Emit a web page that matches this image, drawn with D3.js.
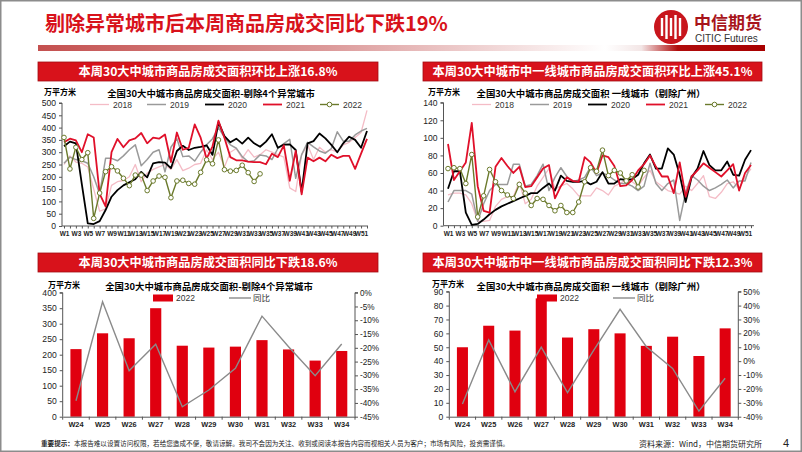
<!DOCTYPE html>
<html><head><meta charset="utf-8">
<script src="https://cdn.jsdelivr.net/npm/d3@7"></script>
<style>
body{margin:0;background:#fff;}
svg{display:block;}
text{font-family:"Liberation Sans","Noto Sans CJK SC",sans-serif;}
.cjk{font-family:"Noto Sans CJK SC",sans-serif;}
</style>
</head><body>
<svg id="c" width="802" height="452"></svg>
<script>
// ---------------- DATA ----------------
const weeks = d3.range(1, 53).map(i => "W" + i);
const yearNames = ["2018", "2019", "2020", "2021", "2022"];

// 全国30大中城市 (剔除4个异常城市), 万平方米
const all2018 = [250,285,260,255,240,150,60,70,165,180,185,200,250,180,215,230,240,250,230,270,225,235,250,255,310,270,300,240,300,315,275,310,280,290,310,300,290,280,155,140,290,330,270,320,300,310,300,330,340,360,380,470];
const all2019 = [255,280,270,265,255,200,130,275,275,265,285,310,330,245,270,300,310,220,320,355,282,285,264,300,330,355,400,360,330,316,282,261,265,289,285,270,315,335,352,194,290,340,322,305,296,315,383,345,345,370,386,397];
const all2020 = [324,343,336,170,11,8,20,65,119,146,165,178,190,220,198,255,260,258,235,305,326,309,318,322,328,289,422,365,340,355,335,359,336,322,343,373,318,331,332,309,139,336,345,376,356,330,300,336,363,350,318,386];
const all2021 = [340,355,348,300,373,360,131,80,300,354,320,348,356,378,336,359,355,372,260,380,310,318,413,359,274,324,428,359,280,267,267,262,260,260,251,294,280,328,184,305,129,278,263,278,263,290,276,285,285,232,294,354];
const all2022 = [360,232,320,270,298,31,134,221,241,224,194,164,207,207,144,183,203,198,115,183,186,173,170,218,269,253,350,229,223,226,247,217,181,212];

// 一线城市 (剔除广州), 万平方米
const t1_2018 = [35,37,37,35,25,5,5,6,22,30,33,33,50,25,30,45,55,65,42,45,48,42,34,34,34,43,40,35,45,48,53,50,45,55,63,50,45,40,38,36,45,40,48,57,33,31,38,48,50,42,55,65];
const t1_2019 = [27,40,40,40,36,5,25,40,47,47,47,70,70,45,47,57,70,40,55,66,56,50,52,55,67,57,60,57,52,48,48,45,40,45,71,48,40,48,52,6,38,57,52,45,40,43,47,52,43,51,51,72];
const t1_2020 = [42,62,62,15,1,2,7,13,18,22,25,28,31,34,37,37,43,48,40,57,51,50,50,51,47,50,61,48,48,53,52,53,58,71,81,65,65,88,81,58,27,55,65,85,69,63,63,73,58,57,75,86];
const t1_2021 = [93,52,62,72,117,45,17,15,67,77,68,60,67,44,45,55,65,69,31,45,55,51,50,78,72,60,80,78,68,45,46,52,63,70,80,67,56,56,37,72,33,56,63,71,66,61,56,63,70,40,60,69];
const t1_2022 = [65,66,65,48,81,10,34,64,50,40,35,31,47,37,23,31,30,23,17,23,15,15,27,50,66,62,86,57,63,60,51,58,44,63];

// 同比 bar charts (W24-W34)
const barWeeks = ["W24","W25","W26","W27","W28","W29","W30","W31","W32","W33","W34"];
const allBars = [218,269,253,350,229,223,226,247,217,181,212];
const allYoY = [-39.2,-3.3,-28.3,-18.7,-41.4,-35.3,-27.4,-8.5,-19.6,-30.1,-18.6];
const t1Bars = [50,65.5,62,85.2,57,63,60,51,57.6,43.7,63.6];
const t1YoY = [-30.8,15.2,-22,10,-22.7,8,37.3,10.4,-5.2,-36,-12.3];

const leftTicks = d3.range(0, 501, 50);
const t1Ticks = d3.range(0, 141, 20);
const allBarTicks = d3.range(0, 401, 50);
const allYoYTicks = d3.range(-45, 1, 5);
const t1BarTicks = d3.range(0, 91, 10);
const t1YoYTicks = d3.range(-40, 51, 10);

// --------------- STYLE ---------------
const RED = "#d8121b";
const seriesStyle = {
  "2018": {color: "#f4bcc6", w: 1.3},
  "2019": {color: "#9a9a9a", w: 1.5},
  "2020": {color: "#000000", w: 1.8},
  "2021": {color: "#e0102a", w: 1.8},
  "2022": {color: "#6b7a2c", w: 1.4, marker: true}
};

const svg = d3.select("#c");
const defs = svg.append("defs");
const grad = defs.append("linearGradient").attr("id", "hg").attr("x1", "0").attr("x2", "1");
[[0, "#c4504f"], [0.4, "#dc9a9a"], [0.78, "#ffffff"], [0.83, "#f3e6e6"], [0.88, "#b00c0c"], [1, "#a80000"]]
  .forEach(([o, c]) => grad.append("stop").attr("offset", o).attr("stop-color", c));

svg.append("rect").attr("x", 0).attr("y", 0).attr("width", 802).attr("height", 452).attr("fill", "#fff");

// Title
svg.append("text").attr("class", "cjk").attr("x", 45).attr("y", 31)
  .attr("font-size", 20).attr("font-weight", "bold").attr("fill", RED)
  .text("剔除异常城市后本周商品房成交同比下跌19%");
svg.append("rect").attr("x", 38).attr("y", 45).attr("width", 727).attr("height", 6).attr("fill", "url(#hg)");

// Logo
const logo = svg.append("g");
logo.append("circle").attr("cx", 671).attr("cy", 27).attr("r", 17).attr("fill", "#c8161d");
[-9, -4.5, 0, 4.5, 9].forEach((dx, i) => {
  logo.append("rect").attr("x", 671 + dx - 1.2).attr("y", 27 - (i % 2 ? 12 : 9)).attr("width", 2.4)
    .attr("height", i % 2 ? 24 : 18).attr("fill", "#fff");
});
logo.append("circle").attr("cx", 671).attr("cy", 27).attr("r", 15).attr("fill", "none").attr("stroke", "#c8161d").attr("stroke-width", 2);
svg.append("text").attr("class", "cjk").attr("x", 694).attr("y", 29).attr("font-size", 17)
  .attr("font-weight", "bold").attr("fill", "#a8141b").text("中信期货");
svg.append("text").attr("x", 695).attr("y", 42).attr("font-size", 10).attr("fill", "#333")
  .attr("font-family", "Liberation Sans Narrow, Liberation Sans").text("CITIC Futures");

// Panel header
function header(x0, x1, y0, txt) {
  svg.append("rect").attr("x", x0).attr("y", y0).attr("width", x1 - x0).attr("height", 19)
    .attr("fill", RED).attr("stroke", "#a30d12").attr("stroke-width", 0.8);
  svg.append("text").attr("class", "cjk").attr("x", (x0 + x1) / 2).attr("y", y0 + 14)
    .attr("text-anchor", "middle").attr("font-size", 12.2).attr("font-weight", "bold")
    .attr("fill", "#fff").text(txt);
}

function chartTitle(cx, y, txt) {
  svg.append("text").attr("class", "cjk").attr("x", cx).attr("y", y).attr("text-anchor", "middle")
    .attr("font-size", 9.4).attr("font-weight", "bold").attr("fill", "#000").text(txt);
}
function unit(x, y) {
  svg.append("text").attr("class", "cjk").attr("x", x).attr("y", y).attr("font-size", 8)
    .attr("font-weight", "bold").attr("fill", "#000").text("万平方米");
}

function lineChart(o) {
  const g = svg.append("g");
  const x = d3.scalePoint().domain(weeks).range([o.x0, o.x1]);
  const y = d3.scaleLinear().domain([0, o.ymax]).range([o.yb, o.yt]);
  const ya = g.append("g").attr("transform", `translate(${o.ax},0)`)
    .call(d3.axisLeft(y).tickValues(o.ticks).tickSize(3).tickPadding(3));
  ya.select(".domain").attr("stroke", "#555").attr("d", `M-3,${o.yt}H0V${o.yb}`);
  ya.selectAll("line").attr("stroke", "#555");
  ya.selectAll("text").attr("font-size", 8.6).attr("fill", "#222").attr("font-family", "Liberation Sans");
  const xa = g.append("g").attr("transform", `translate(0,${o.yb})`)
    .call(d3.axisBottom(x).tickSize(2.5).tickPadding(3)
      .tickFormat((d, i) => (i % 2 === 0 ? d : "")));
  xa.select(".domain").attr("stroke", "#555").attr("d", `M${o.ax},0H${o.xend}`);
  xa.selectAll("line").attr("stroke", "#555");
  xa.selectAll("text").attr("font-size", 6.5).attr("fill", "#222").attr("font-weight", "bold")
    .attr("font-family", "Liberation Sans Narrow, Liberation Sans");
  o.series.forEach((vals, k) => {
    const st = seriesStyle[yearNames[k]];
    const pts = vals.map((v, i) => [x(weeks[i]), y(v)]);
    g.append("path").attr("d", d3.line()(pts)).attr("fill", "none")
      .attr("stroke", st.color).attr("stroke-width", st.w).attr("stroke-linejoin", "round");
    if (st.marker) {
      g.selectAll(null).data(pts).enter().append("circle")
        .attr("cx", d => d[0]).attr("cy", d => d[1]).attr("r", 2.3)
        .attr("fill", "#fff").attr("stroke", st.color).attr("stroke-width", 1);
    }
  });
  o.legend.forEach((lx, k) => {
    const st = seriesStyle[yearNames[k]];
    g.append("line").attr("x1", lx).attr("x2", lx + 19).attr("y1", o.ly).attr("y2", o.ly)
      .attr("stroke", st.color).attr("stroke-width", st.w);
    if (st.marker) g.append("circle").attr("cx", lx + 9.5).attr("cy", o.ly).attr("r", 2.3)
      .attr("fill", "#fff").attr("stroke", st.color);
    g.append("text").attr("x", lx + 23).attr("y", o.ly + 3).attr("font-size", 8.5)
      .attr("fill", "#333").text(yearNames[k]);
  });
}

function barChart(o) {
  const g = svg.append("g");
  const x = d3.scaleBand().domain(barWeeks).range([o.ax, o.rx]).paddingInner(0.58).paddingOuter(0.29);
  const y = d3.scaleLinear().domain([0, o.ymax]).range([o.yb, o.yt]);
  const y2 = d3.scaleLinear().domain([o.rmin, o.rmax]).range([o.yb, o.yt]);
  g.selectAll(null).data(o.bars).enter().append("rect")
    .attr("x", (d, i) => x(barWeeks[i])).attr("width", x.bandwidth())
    .attr("y", d => y(d)).attr("height", d => o.yb - y(d)).attr("fill", "#e0000f");
  const ya = g.append("g").attr("transform", `translate(${o.ax},0)`)
    .call(d3.axisLeft(y).tickValues(o.ticks).tickSize(3).tickPadding(3));
  ya.select(".domain").attr("stroke", "#555").attr("d", `M-3,${o.yt}H0V${o.yb}`);
  ya.selectAll("line").attr("stroke", "#555");
  ya.selectAll("text").attr("font-size", 8.6).attr("fill", "#222");
  const ra = g.append("g").attr("transform", `translate(${o.rx},0)`)
    .call(d3.axisRight(y2).tickValues(o.rticks).tickSize(3).tickPadding(2).tickFormat(d => d + "%"));
  ra.select(".domain").attr("stroke", "#555").attr("d", `M3,${o.yt}H0V${o.yb}`);
  ra.selectAll("line").attr("stroke", "#555");
  ra.selectAll("text").attr("font-size", 8.2).attr("fill", "#222");
  const xa = g.append("g").attr("transform", `translate(0,${o.yb})`)
    .call(d3.axisBottom(x).tickSize(0).tickPadding(5));
  xa.select(".domain").attr("stroke", "#555");
  xa.selectAll("text").attr("font-size", 7.4).attr("font-weight", "bold").attr("fill", "#222")
    .attr("font-family", "Liberation Sans Narrow, Liberation Sans");
  g.selectAll(null).data(d3.range(barWeeks.length + 1)).enter().append("line")
    .attr("x1", i => o.ax + i * x.step()).attr("x2", i => o.ax + i * x.step())
    .attr("y1", o.yb).attr("y2", o.yb + 3).attr("stroke", "#555");
  const pts = o.line.map((v, i) => [x(barWeeks[i]) + x.bandwidth() / 2, y2(v)]);
  g.append("path").attr("d", d3.line()(pts)).attr("fill", "none").attr("stroke", "#8a8a8a").attr("stroke-width", 1.4);
  g.append("rect").attr("x", o.lx).attr("y", o.ly - 3.5).attr("width", 20).attr("height", 7).attr("fill", "#e0000f");
  g.append("text").attr("x", o.lx + 23).attr("y", o.ly + 3.2).attr("font-size", 8.5).attr("fill", "#333").text("2022");
  g.append("line").attr("x1", o.lx2).attr("x2", o.lx2 + 22).attr("y1", o.ly).attr("y2", o.ly)
    .attr("stroke", "#8a8a8a").attr("stroke-width", 1.4);
  g.append("text").attr("class", "cjk").attr("x", o.lx2 + 24).attr("y", o.ly + 3.2).attr("font-size", 8.5)
    .attr("fill", "#333").text("同比");
}

// ---- Top-left ----
header(38, 378, 62, "本周30大中城市商品房成交面积环比上涨16.8%");
chartTitle(211, 97, "全国30大中城市商品房成交面积-剔除4个异常城市");
unit(44, 95);
lineChart({x0: 64, x1: 367, xend: 368, ax: 62, yt: 103, yb: 226, ymax: 500, ticks: leftTicks,
  series: [all2018, all2019, all2020, all2021, all2022], legend: [90, 147, 205, 263, 320], ly: 104.5});

// ---- Top-right ----
header(423, 762, 62, "本周30大中城市中一线城市商品房成交面积环比上涨45.1%");
chartTitle(591, 97, "全国30大中城市商品房成交面积  一线城市（剔除广州）");
unit(428, 95);
lineChart({x0: 448, x1: 751, xend: 754, ax: 443.5, yt: 102.7, yb: 225.7, ymax: 140, ticks: t1Ticks,
  series: [t1_2018, t1_2019, t1_2020, t1_2021, t1_2022], legend: [472, 530, 588, 646, 705], ly: 104.5});

// ---- Bottom-left ----
header(38, 378, 253, "本周30大中城市商品房成交面积同比下跌18.6%");
chartTitle(209, 289.5, "全国30大中城市商品房成交面积-剔除4个异常城市");
unit(48, 287.5);
barChart({ax: 62.7, rx: 355, yt: 292.7, yb: 416.7, ymax: 400, ticks: allBarTicks,
  rmin: -45, rmax: 0, rticks: allYoYTicks, bars: allBars, line: allYoY, lx: 153, lx2: 229, ly: 298});

// ---- Bottom-right ----
header(423, 762, 253, "本周30大中城市中一线城市商品房成交面积同比下跌12.3%");
chartTitle(591, 289.5, "全国30大中城市商品房成交面积  一线城市（剔除广州）");
unit(432, 286.5);
barChart({ax: 449.3, rx: 738.3, yt: 291.7, yb: 416.7, ymax: 90, ticks: t1BarTicks,
  rmin: -40, rmax: 50, rticks: t1YoYTicks, bars: t1Bars, line: t1YoY, lx: 537, lx2: 613, ly: 298});

// ---- Footer ----
const ft = svg.append("text").attr("class", "cjk").attr("x", 41).attr("y", 446).attr("font-size", 6.6).attr("fill", "#222");
ft.append("tspan").attr("font-weight", "bold").text("重要提示：");
ft.append("tspan").text("本报告难以设置访问权限，若给您造成不便，敬请谅解。我司不会因为关注、收到或阅读本报告内容而视相关人员为客户；市场有风险，投资需谨慎。");
svg.append("text").attr("class", "cjk").attr("x", 762).attr("y", 447).attr("text-anchor", "end")
  .attr("font-size", 8).attr("fill", "#222").text("资料来源：Wind，中信期货研究所");
svg.append("text").attr("x", 783).attr("y", 447).attr("font-size", 11).attr("fill", "#222").text("4");

svg.append("rect").attr("x", 0.75).attr("y", 0.75).attr("width", 800.5).attr("height", 450.5)
  .attr("fill", "none").attr("stroke", "#8c8c8c").attr("stroke-width", 1.5);
</script>
</body></html>
